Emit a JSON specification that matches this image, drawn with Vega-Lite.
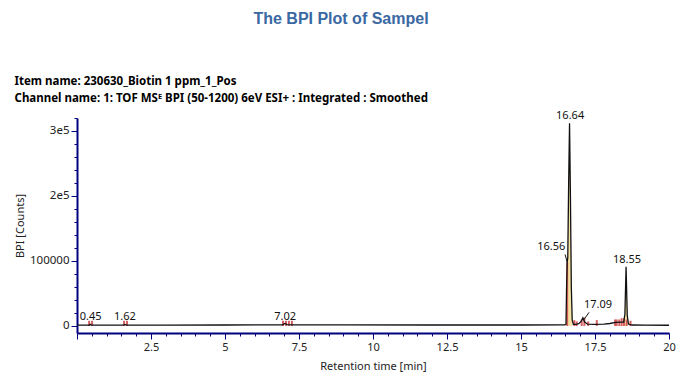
{
  "$schema": "https://vega.github.io/schema/vega-lite/v6.json",
  "width": 592,
  "height": 215,
  "autosize": {"type": "none"},
  "padding": {"left": 77, "top": 118, "right": 14, "bottom": 50},
  "background": "white",
  "title": {
    "text": "The BPI Plot of Sampel",
    "font": "Liberation Sans",
    "fontSize": 16,
    "fontWeight": "bold",
    "color": "#3a68a2",
    "anchor": "middle",
    "frame": "group",
    "dx": -32,
    "dy": -38,
    "offset": 10
  },
  "datasets": {
    "chrom": [
      {"t": 0, "i": 1200}, {"t": 0.3, "i": 1300}, {"t": 0.42, "i": 1500}, {"t": 0.45, "i": 2600}, {"t": 0.48, "i": 1500},
      {"t": 1.0, "i": 1300}, {"t": 1.58, "i": 1400}, {"t": 1.62, "i": 2300}, {"t": 1.66, "i": 1400}, {"t": 3, "i": 1300},
      {"t": 5, "i": 1500}, {"t": 6.5, "i": 1600}, {"t": 6.95, "i": 1800}, {"t": 7.02, "i": 3800}, {"t": 7.1, "i": 2200},
      {"t": 7.3, "i": 1700}, {"t": 9, "i": 1600}, {"t": 12, "i": 1500}, {"t": 15, "i": 1500}, {"t": 16.3, "i": 1600},
      {"t": 16.48, "i": 1800}, {"t": 16.52, "i": 3000}, {"t": 16.54, "i": 60000}, {"t": 16.56, "i": 98000}, {"t": 16.58, "i": 105000},
      {"t": 16.61, "i": 220000}, {"t": 16.64, "i": 312000}, {"t": 16.67, "i": 200000}, {"t": 16.7, "i": 60000}, {"t": 16.73, "i": 9000},
      {"t": 16.77, "i": 2500}, {"t": 16.85, "i": 2600}, {"t": 16.95, "i": 3500}, {"t": 17.03, "i": 7000}, {"t": 17.09, "i": 12500},
      {"t": 17.15, "i": 6000}, {"t": 17.25, "i": 2800}, {"t": 17.5, "i": 2500}, {"t": 17.8, "i": 2800}, {"t": 18.0, "i": 3800},
      {"t": 18.2, "i": 5500}, {"t": 18.4, "i": 6000}, {"t": 18.47, "i": 6000}, {"t": 18.51, "i": 18000}, {"t": 18.55, "i": 91000},
      {"t": 18.59, "i": 16000}, {"t": 18.63, "i": 3000}, {"t": 18.75, "i": 1500}, {"t": 19.2, "i": 1200}, {"t": 20, "i": 1100}
    ],
    "markers": [
      {"t": 0.41, "h": 8000}, {"t": 0.51, "h": 8000}, {"t": 1.59, "h": 8000}, {"t": 1.69, "h": 8000},
      {"t": 6.96, "h": 8000}, {"t": 7.06, "h": 8000}, {"t": 7.16, "h": 8000}, {"t": 7.26, "h": 8000},
      {"t": 16.56, "h": 98000}, {"t": 16.8, "h": 9000}, {"t": 16.88, "h": 7000}, {"t": 17.05, "h": 10000},
      {"t": 17.14, "h": 13000}, {"t": 17.27, "h": 7000}, {"t": 17.56, "h": 9000},
      {"t": 18.18, "h": 10000}, {"t": 18.23, "h": 10000}, {"t": 18.32, "h": 10000}, {"t": 18.4, "h": 12000},
      {"t": 18.48, "h": 12000}, {"t": 18.57, "h": 10000}, {"t": 18.7, "h": 8000}
    ],
    "labels": [
      {"lab": "0.45", "t": 0.46, "v": 2600},
      {"lab": "1.62", "t": 1.62, "v": 2300},
      {"lab": "7.02", "t": 7.03, "v": 3800},
      {"lab": "16.56", "t": 16.02, "v": 110800},
      {"lab": "16.64", "t": 16.66, "v": 312000},
      {"lab": "17.09", "t": 17.6, "v": 21500},
      {"lab": "18.55", "t": 18.58, "v": 91000}
    ],
    "leaders": [
      {"t1": 16.49, "v1": 110000, "t2": 16.56, "v2": 98000},
      {"t1": 17.3, "v1": 21000, "t2": 17.12, "v2": 9500}
    ]
  },
  "layer": [
    {
      "data": {"name": "chrom"},
      "transform": [{"filter": "datum.t >= 16.55 && datum.t <= 16.75"}],
      "mark": {"type": "area", "color": "#f6e3a4", "opacity": 1},
      "encoding": {
        "x": {"field": "t", "type": "quantitative", "axis": null},
        "y": {"field": "i", "type": "quantitative", "axis": null},
        "y2": {"datum": 0}
      }
    },
    {
      "data": {"name": "chrom"},
      "transform": [{"filter": "datum.t >= 18.5 && datum.t <= 18.61"}],
      "mark": {"type": "area", "color": "#f6e3a4", "opacity": 1},
      "encoding": {
        "x": {"field": "t", "type": "quantitative", "axis": null},
        "y": {"field": "i", "type": "quantitative", "axis": null},
        "y2": {"datum": 0}
      }
    },
    {
      "data": {"name": "markers"},
      "mark": {"type": "rule", "color": "#cc4444", "strokeWidth": 2, "opacity": 0.85},
      "encoding": {
        "x": {"field": "t", "type": "quantitative", "axis": null},
        "y": {"field": "h", "type": "quantitative", "axis": null},
        "y2": {"datum": 0}
      }
    },
    {
      "data": {"name": "chrom"},
      "mark": {"type": "line", "color": "#111111", "strokeWidth": 1.3},
      "encoding": {
        "x": {
          "field": "t",
          "type": "quantitative",
          "scale": {"domain": [0, 20], "nice": false, "zero": false},
          "axis": {
            "orient": "bottom",
            "title": "Retention time [min]",
            "values": [0, 0.5, 1, 1.5, 2, 2.5, 3, 3.5, 4, 4.5, 5, 5.5, 6, 6.5, 7, 7.5, 8, 8.5, 9, 9.5, 10, 10.5, 11, 11.5, 12, 12.5, 13, 13.5, 14, 14.5, 15, 15.5, 16, 16.5, 17, 17.5, 18, 18.5, 19, 19.5, 20],
            "labelExpr": "(datum.value % 2.5 === 0 && datum.value > 0) ? toString(datum.value) : ''",
            "tickSize": {"condition": {"test": "datum.value % 2.5 === 0", "value": 6}, "value": 3},
            "labelPadding": 2,
            "titlePadding": 8
          }
        },
        "y": {
          "field": "i",
          "type": "quantitative",
          "scale": {"domain": [-10800, 320000], "nice": false, "zero": false},
          "axis": {
            "title": "BPI [Counts]",
            "values": [0, 20000, 40000, 60000, 80000, 100000, 120000, 140000, 160000, 180000, 200000, 220000, 240000, 260000, 280000, 300000, 320000],
            "labelExpr": "datum.value == 0 ? '0' : datum.value == 100000 ? '100000' : datum.value == 200000 ? '2e5' : datum.value == 300000 ? '3e5' : ''",
            "tickSize": {"condition": {"test": "datum.value % 100000 == 0", "value": 6}, "value": 3},
            "labelPadding": 2,
            "labelFontSize": 11.5,
            "titlePadding": 4
          }
        }
      }
    },
    {
      "data": {"name": "leaders"},
      "mark": {"type": "rule", "color": "#111111", "strokeWidth": 1},
      "encoding": {
        "x": {"field": "t1", "type": "quantitative", "axis": null},
        "y": {"field": "v1", "type": "quantitative", "axis": null},
        "x2": {"field": "t2"},
        "y2": {"field": "v2"}
      }
    },
    {
      "data": {"name": "labels"},
      "mark": {"type": "text", "font": "Noto Sans", "fontSize": 11, "color": "#111111", "baseline": "bottom", "align": "center", "dy": -2},
      "encoding": {
        "x": {
          "field": "t",
          "type": "quantitative",
          "axis": {
            "orient": "top",
            "domain": false,
            "ticks": false,
            "labels": false,
            "grid": false,
            "title": ["Item name: 230630_Biotin 1 ppm_1_Pos", "Channel name: 1: TOF MSᴱ BPI (50-1200) 6eV ESI+ : Integrated : Smoothed"],
            "titleAnchor": "start",
            "titleAlign": "left",
            "titleBaseline": "top",
            "titleX": -63,
            "titleY": -43,
            "titleLineHeight": 17,
            "titleFont": "Noto Sans",
            "titleFontSize": 11.5,
            "titleFontWeight": "bold",
            "titleColor": "#000000"
          }
        },
        "y": {"field": "v", "type": "quantitative", "axis": null},
        "text": {"field": "lab", "type": "nominal"}
      }
    }
  ],
  "resolve": {"axis": {"x": "independent", "y": "independent"}},
  "config": {
    "view": {"stroke": null},
    "axis": {
      "grid": false,
      "domainColor": "#000080",
      "domainWidth": 2,
      "tickColor": "#000080",
      "tickWidth": 1,
      "labelFont": "Noto Sans",
      "labelFontSize": 11,
      "labelColor": "#222222",
      "labelOverlap": false,
      "labelFlush": false,
      "titleFont": "Noto Sans",
      "titleFontSize": 11,
      "titleFontWeight": "normal",
      "titleColor": "#222222"
    }
  }
}
